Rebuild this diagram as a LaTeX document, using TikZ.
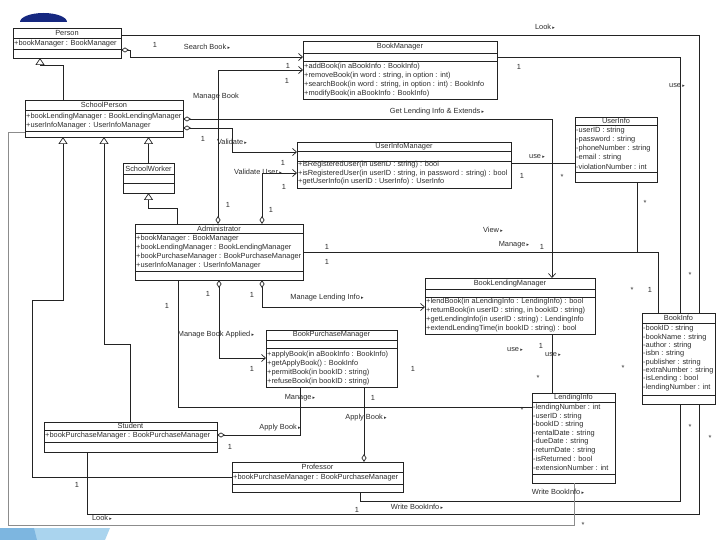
\documentclass[tikz,border=0pt]{standalone}
\usepackage{fontspec}
\setmainfont{Liberation Sans}
\newfontfamily\symf{DejaVu Sans}
\usetikzlibrary{arrows.meta,fit}
\definecolor{ln}{RGB}{35,35,35}
\definecolor{lg}{RGB}{140,140,140}
\definecolor{tx}{RGB}{45,45,45}
\definecolor{navyd}{RGB}{22,40,128}
\definecolor{bandl}{RGB}{170,212,238}
\definecolor{bandd}{RGB}{125,182,224}
\newcommand\tri{\,{\symf\fontsize{5}{5}\selectfont ▸}}
\tikzset{
 cls/.style={draw=ln, line width=0.8pt, inner sep=0pt, outer sep=0pt},
 sepl/.style={draw=ln, line width=0.7pt},
 ttl/.style={font=\fontsize{7.4}{7.4}\selectfont, text=tx, inner sep=0pt},
 mem/.style={font=\fontsize{7.4}{7.4}\selectfont, text=tx, inner sep=0pt, anchor=west},
 lab/.style={font=\fontsize{7.4}{7.4}\selectfont, text=tx, inner sep=0pt},
 con/.style={draw=ln, line width=0.7pt},
 cong/.style={draw=lg, line width=0.7pt},
 nav/.style={-{Straight Barb[length=4pt,width=7pt]}},
 agg/.style={{Diamond[open,length=8pt,width=5pt]}-},
 aggnav/.style={{Diamond[open,length=8pt,width=5pt]}-{Straight Barb[length=4pt,width=7pt]}},
 inh/.style={-{Triangle[open,length=7pt,width=9pt]}},
}
\newcommand\umlcls[8]{%
  \node[cls, fit={(#2,#3)(#4,#5)}] (#1) {};
  \draw[sepl] (#2,#6) -- (#4,#6);
  \draw[sepl] (#2,#7) -- (#4,#7);
  \node[ttl] (#1-t) at ({(#2+#4)/2},{(#3+#6)/2}) {#8};
}
\begin{document}
\begin{tikzpicture}[x=1pt,y=-1pt]
\useasboundingbox (0,0) rectangle (720,540);
\fill[white] (0,0) rectangle (720,540);
% decorations
\fill[navyd] (20,22) arc[start angle=180,end angle=360,x radius=23.5,y radius=9] -- cycle;
\fill[bandl] (0,528) -- (110,528) -- (105,540) -- (0,540) -- cycle;
\fill[bandd] (0,528) -- (34,528) -- (37,540) -- (0,540) -- cycle;

% classes
\umlcls{person}{13}{28}{121}{58}{38}{49}{Person}
\node[mem] (person-a1) at (14,43.5) {+bookManager : BookManager};

\umlcls{bookmgr}{303}{41}{497}{99}{53}{61}{BookManager}
\node[mem] (bm-o1) at (304,67) {+addBook(in aBookInfo : BookInfo)};
\node[mem] (bm-o2) at (304,76) {+removeBook(in word : string, in option : int)};
\node[mem] (bm-o3) at (304,85) {+searchBook(in word : string, in option : int) : BookInfo};
\node[mem] (bm-o4) at (304,93.5) {+modifyBook(in aBookInfo : BookInfo)};

\umlcls{schoolp}{25}{100}{183}{137}{110}{131}{SchoolPerson}
\node[mem] (sp-a1) at (26,117) {+bookLendingManager : BookLendingManager};
\node[mem] (sp-a2) at (26,126) {+userInfoManager : UserInfoManager};

\umlcls{userinfo}{575}{117}{657}{182}{125}{172}{UserInfo}
\node[mem] (ui-a1) at (576,131) {-userID : string};
\node[mem] (ui-a2) at (576,140) {-password : string};
\node[mem] (ui-a3) at (576,149) {-phoneNumber : string};
\node[mem] (ui-a4) at (576,158) {-email : string};
\node[mem] (ui-a5) at (576,167) {-violationNumber : int};

\umlcls{uim}{297}{142}{511}{188}{151}{161}{UserInfoManager}
\node[mem] (uim-o1) at (298,165) {+isRegisteredUser(in userID : string) : bool};
\node[mem] (uim-o2) at (298,173.5) {+isRegisteredUser(in userID : string, in password : string) : bool};
\node[mem] (uim-o3) at (298,182) {+getUserInfo(in userID : UserInfo) : UserInfo};

\umlcls{schoolw}{123}{163}{174}{193}{174}{183}{SchoolWorker}

\umlcls{admin}{135}{224}{303}{280}{233}{271}{Administrator}
\node[mem] (ad-a1) at (136,238.5) {+bookManager : BookManager};
\node[mem] (ad-a2) at (136,247.5) {+bookLendingManager : BookLendingManager};
\node[mem] (ad-a3) at (136,256.5) {+bookPurchaseManager : BookPurchaseManager};
\node[mem] (ad-a4) at (136,265.5) {+userInfoManager : UserInfoManager};

\umlcls{blm}{425}{278}{595}{334}{289}{297}{BookLendingManager}
\node[mem] (blm-o1) at (426,302) {+lendBook(in aLendingInfo : LendingInfo) : bool};
\node[mem] (blm-o2) at (426,311) {+returnBook(in userID : string, in bookID : string)};
\node[mem] (blm-o3) at (426,320) {+getLendingInfo(in userID : string) : LendingInfo};
\node[mem] (blm-o4) at (426,329) {+extendLendingTime(in bookID : string) : bool};

\umlcls{bookinfo}{642}{313}{715}{404}{323}{395}{BookInfo}
\node[mem] (bi-a1) at (643,329) {-bookID : string};
\node[mem] (bi-a2) at (643,337.3) {-bookName : string};
\node[mem] (bi-a3) at (643,345.6) {-author : string};
\node[mem] (bi-a4) at (643,353.9) {-isbn : string};
\node[mem] (bi-a5) at (643,362.2) {-publisher : string};
\node[mem] (bi-a6) at (643,370.5) {-extraNumber : string};
\node[mem] (bi-a7) at (643,378.8) {-isLending : bool};
\node[mem] (bi-a8) at (643,387.1) {-lendingNumber : int};

\umlcls{bpm}{266}{330}{397}{387}{340}{348}{BookPurchaseManager}
\node[mem] (bpm-o1) at (267,355) {+applyBook(in aBookInfo : BookInfo)};
\node[mem] (bpm-o2) at (267,364) {+getApplyBook() : BookInfo};
\node[mem] (bpm-o3) at (267,373) {+permitBook(in bookID : string)};
\node[mem] (bpm-o4) at (267,382) {+refuseBook(in bookID : string)};

\umlcls{lendinfo}{532}{393}{615}{483}{402}{474}{LendingInfo}
\node[mem] (li-a1) at (533,408) {-lendingNumber : int};
\node[mem] (li-a2) at (533,416.5) {-userID : string};
\node[mem] (li-a3) at (533,425) {-bookID : string};
\node[mem] (li-a4) at (533,433.5) {-rentalDate : string};
\node[mem] (li-a5) at (533,442) {-dueDate : string};
\node[mem] (li-a6) at (533,450.5) {-returnDate : string};
\node[mem] (li-a7) at (533,459) {-isReturned : bool};
\node[mem] (li-a8) at (533,467.5) {-extensionNumber : int};

\umlcls{student}{44}{422}{217}{452}{430}{442}{Student}
\node[mem] (st-a1) at (45,436) {+bookPurchaseManager : BookPurchaseManager};

\umlcls{prof}{232}{462}{403}{492}{472}{484}{Professor}
\node[mem] (pr-a1) at (233,478) {+bookPurchaseManager : BookPurchaseManager};

% associations
\draw[con] (person.east |- 0,35) -- (699,35) -- (bookinfo.north -| 699,0);
\draw[con,aggnav] (person.east |- 0,50) -- (130,50) -- (130,57) -- (bookmgr.west |- 0,57);
\draw[con,aggnav] (admin.north -| 218,0) -- (218,70) -- (bookmgr.west |- 0,70);
\draw[con] (bookmgr.east |- 0,57) -- (680,57) -- (bookinfo.north -| 680,0);
\draw[con,aggnav] (schoolp.east |- 0,119) -- (552,119) -- (blm.north -| 552,0);
\draw[con,aggnav] (schoolp.east |- 0,128) -- (232,128) -- (232,152) -- (uim.west |- 0,152);
\draw[con,aggnav] (admin.north -| 262,0) -- (262,173) -- (uim.west |- 0,173);
\draw[con] (uim.east |- 0,163) -- (userinfo.west |- 0,163);
\draw[con] (admin.east |- 0,252) -- (637,252) -- (userinfo.south -| 637,0);
\draw[con] (admin.east |- 0,252) -- (658,252) -- (bookinfo.north -| 658,0);
\draw[con,aggnav] (admin.south -| 262,0) -- (262,307) -- (blm.west |- 0,307);
\draw[con,aggnav] (admin.south -| 219,0) -- (219,358) -- (bpm.west |- 0,358);
\draw[con] (admin.south -| 178,0) -- (178,407) -- (lendinfo.west |- 0,407);
\draw[con,agg] (student.east |- 0,435) -- (300,435) -- (bpm.south -| 300,0);
\draw[con,agg] (prof.north -| 364,0) -- (bpm.south -| 364,0);
\draw[con] (prof.south -| 360,0) -- (360,501) -- (680,501) -- (bookinfo.south -| 680,0);
\draw[con] (student.south -| 87,0) -- (87,514) -- (699,514) -- (bookinfo.south -| 699,0);
\draw[cong] (schoolp.west |- 0,132) -- (8,132) -- (8,525) -- (574,525) -- (lendinfo.south -| 574,0);
\draw[con] (blm.south -| 552,0) -- (lendinfo.north -| 552,0);

% generalizations
\draw[con,inh] (schoolp.north -| 63,0) -- (63,65) -- (40,65) -- (person.south -| 40,0);
\draw[con,inh] (prof.west |- 0,477) -- (32,477) -- (32,300) -- (63,300) -- (schoolp.south -| 63,0);
\draw[con,inh] (student.north -| 130,0) -- (130,344) -- (104,344) -- (schoolp.south -| 104,0);
\draw[con,inh] (schoolw.north) -- (schoolp.south -| schoolw.north);
\draw[con,inh] (admin.north -| 177,0) -- (177,208) -- (148.5,208) -- (schoolw.south);

% labels
\node[lab] (l1) at (545,27) {Look\tri};
\node[lab] (l2) at (155,45) {1};
\node[lab] (l3) at (207,47) {Search Book\tri};
\node[lab] (l4) at (288,66) {1};
\node[lab] (l5) at (287,81) {1};
\node[lab] (l6) at (216,97) {Manage Book};
\node[lab] (l7) at (519,67) {1};
\node[lab] (l8) at (677,86) {use\tri};
\node[lab] (l9) at (437,112) {Get Lending Info \& Extends\tri};
\node[lab] (l10) at (203,139) {1};
\node[lab] (l11) at (232,142) {Validate\tri};
\node[lab] (l12) at (283,163) {1};
\node[lab] (l13) at (258,172) {Validate User\tri};
\node[lab] (l14) at (284,187) {1};
\node[lab] (l15) at (537,157) {use\tri};
\node[lab] (l16) at (522,176) {1};
\node[lab] (l17) at (562,177) {*};
\node[lab] (l18) at (645,203) {*};
\node[lab] (l19) at (228,205) {1};
\node[lab] (l20) at (271,210) {1};
\node[lab] (l21) at (493,230) {View\tri};
\node[lab] (l22) at (514,245) {Manage\tri};
\node[lab] (l23) at (542,247) {1};
\node[lab] (l24) at (327,247) {1};
\node[lab] (l25) at (327,262) {1};
\node[lab] (l26) at (690,275) {*};
\node[lab] (l27) at (632,290) {*};
\node[lab] (l28) at (650,290) {1};
\node[lab] (l29) at (208,294) {1};
\node[lab] (l30) at (252,295) {1};
\node[lab] (l31) at (327,298) {Manage Lending Info\tri};
\node[lab] (l32) at (167,306) {1};
\node[lab] (l33) at (216,335) {Manage Book Applied\tri};
\node[lab] (l34) at (252,369) {1};
\node[lab] (l35) at (413,369) {1};
\node[lab] (l36) at (515,350) {use\tri};
\node[lab] (l37) at (541,346) {1};
\node[lab] (l38) at (553,355) {use\tri};
\node[lab] (l39) at (538,378) {*};
\node[lab] (l40) at (623,368) {*};
\node[lab] (l41) at (300,398) {Manage\tri};
\node[lab] (l42) at (373,398) {1};
\node[lab] (l43) at (366,418) {Apply Book\tri};
\node[lab] (l44) at (522,410) {*};
\node[lab] (l45) at (280,428) {Apply Book\tri};
\node[lab] (l46) at (230,447) {1};
\node[lab] (l47) at (77,485) {1};
\node[lab] (l48) at (102,518) {Look\tri};
\node[lab] (l49) at (417,507) {Write BookInfo\tri};
\node[lab] (l50) at (558,492) {Write BookInfo\tri};
\node[lab] (l51) at (357,510) {1};
\node[lab] (l52) at (583,525) {*};
\node[lab] (l53) at (690,427) {*};
\node[lab] (l54) at (710,438) {*};
\end{tikzpicture}
\end{document}
